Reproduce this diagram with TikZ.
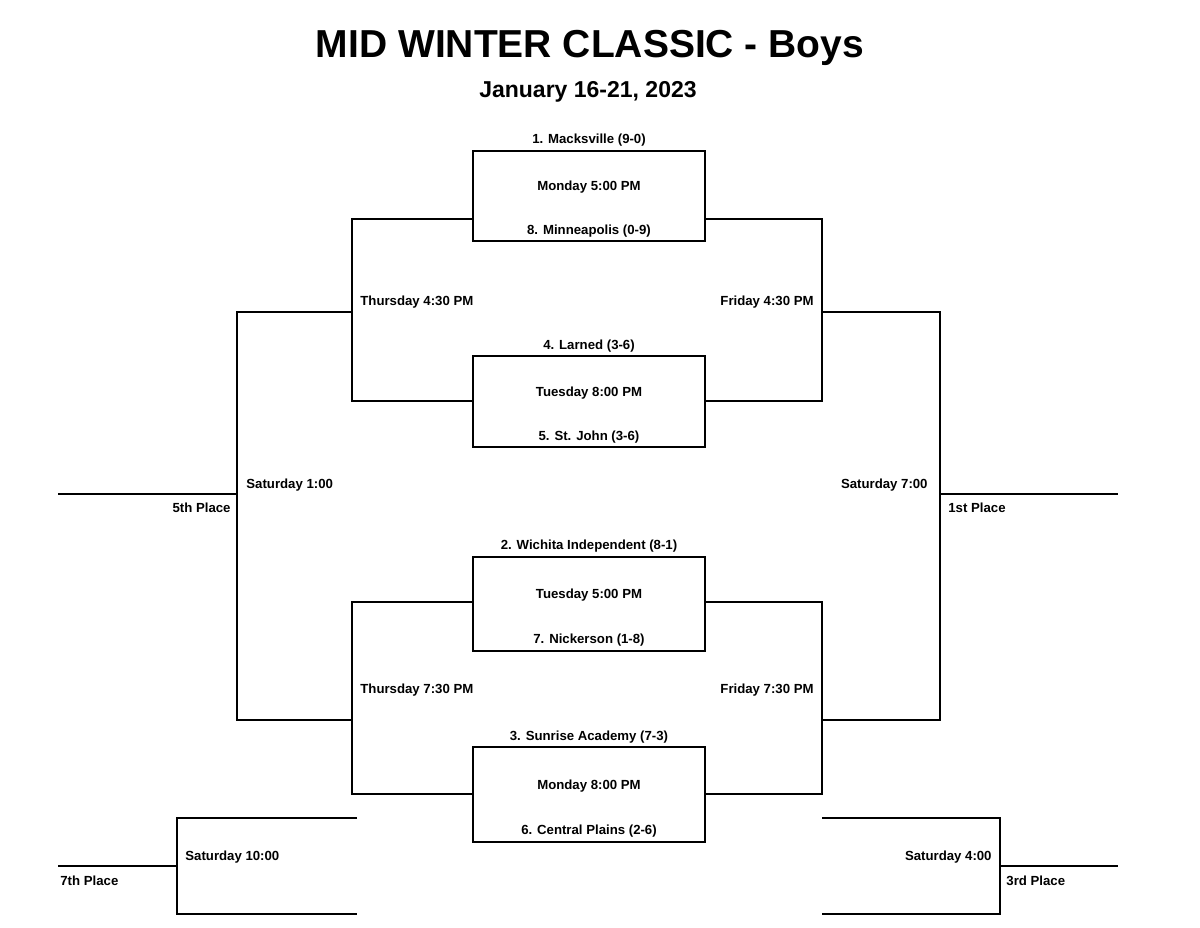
\documentclass[tikz,border=0pt]{standalone}
\usepackage{fontspec}
\setmainfont{Liberation Sans}
\begin{document}
\begin{tikzpicture}[x=0.5pt,y=-0.5pt]
\tikzset{ line/.style={line width=1.4pt}, lbl/.style={font=\bfseries\fontsize{6.6}{7}\selectfont, inner sep=0pt} }
\useasboundingbox (0,0) rectangle (1200,927);

\node [font=\bfseries\fontsize{19.5}{22}\selectfont] (title) at (590,48) {MID WINTER CLASSIC - Boys};
\node [font=\bfseries\fontsize{11.5}{13}\selectfont] (date) at (588,92) {January 16-21, 2023};

% game boxes
\draw [line] (473,151) rectangle (705,241);
\draw [line] (473,356) rectangle (705,447);
\draw [line] (473,557) rectangle (705,651);
\draw [line] (473,747) rectangle (705,842);

% quarter brackets
\draw [line] (473,219) -- (352,219) -- (352,401) -- (473,401);
\draw [line] (705,219) -- (822,219) -- (822,401) -- (705,401);
\draw [line] (473,602) -- (352,602) -- (352,794) -- (473,794);
\draw [line] (705,602) -- (822,602) -- (822,794) -- (705,794);

% semi brackets
\draw [line] (352,312) -- (237,312) -- (237,720) -- (352,720);
\draw [line] (822,312) -- (940,312) -- (940,720) -- (822,720);
\draw [line] (58,494) -- (237,494);
\draw [line] (940,494) -- (1118,494);

% 7th and 3rd
\draw [line] (357,818) -- (177,818) -- (177,914) -- (357,914);
\draw [line] (58,866) -- (177,866);
\draw [line] (822,818) -- (1000,818) -- (1000,914) -- (822,914);
\draw [line] (1000,866) -- (1118,866);

\node [lbl] at (589,140) {1. Macksville (9-0)};
\node [lbl] at (589,187) {Monday 5:00 PM};
\node [lbl] at (589,231) {8. Minneapolis (0-9)};
\node [lbl] at (589,346) {4. Larned (3-6)};
\node [lbl] at (589,393) {Tuesday 8:00 PM};
\node [lbl] at (589,437) {5. St. John (3-6)};
\node [lbl] at (589,546) {2. Wichita Independent (8-1)};
\node [lbl] at (589,595) {Tuesday 5:00 PM};
\node [lbl] at (589,640) {7. Nickerson (1-8)};
\node [lbl] at (589,737) {3. Sunrise Academy (7-3)};
\node [lbl] at (589,786) {Monday 8:00 PM};
\node [lbl] at (589,831) {6. Central Plains (2-6)};

\node [lbl, anchor=west] at (360,302) {Thursday 4:30 PM};
\node [lbl, anchor=east] at (814,302) {Friday 4:30 PM};
\node [lbl, anchor=west] at (360,690) {Thursday 7:30 PM};
\node [lbl, anchor=east] at (814,690) {Friday 7:30 PM};
\node [lbl, anchor=west] at (246,485) {Saturday 1:00};
\node [lbl, anchor=east] at (928,485) {Saturday 7:00};
\node [lbl, anchor=east] at (231,508) {5th Place};
\node [lbl, anchor=west] at (948,508) {1st Place};
\node [lbl, anchor=west] at (185,857) {Saturday 10:00};
\node [lbl, anchor=east] at (992,857) {Saturday 4:00};
\node [lbl, anchor=west] at (60,881) {7th Place};
\node [lbl, anchor=west] at (1006,881) {3rd Place};

\end{tikzpicture}
\end{document}
